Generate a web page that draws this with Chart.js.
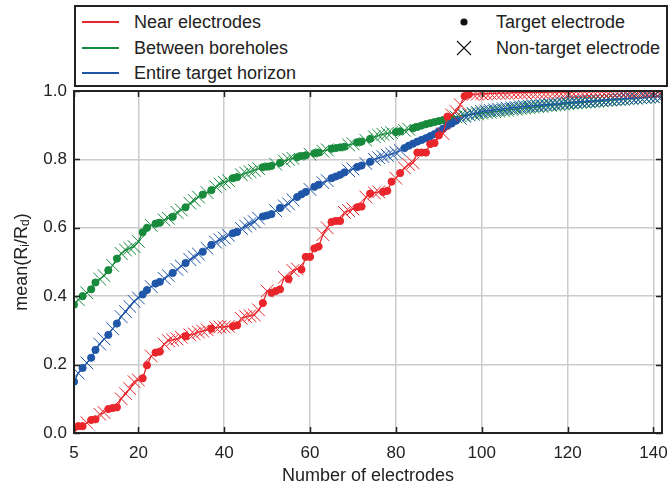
<!DOCTYPE html>
<html>
<head>
<meta charset="utf-8">
<script src="https://cdn.jsdelivr.net/npm/chart.js@4"></script>
<style>
  body { margin: 0; background: #fff; }
  #wrap { position: relative; width: 672px; height: 491px; }
  #legend {
    position: absolute; left: 74px; top: 5px; width: 590px; height: 78px;
    border: 2px solid #222; background: #fff;
    font-family: "Liberation Sans", Arial, sans-serif; font-size: 18px; color: #222;
  }
  .item { position: absolute; height: 20px; line-height: 20px; white-space: nowrap; }
  .item .ln { position: absolute; left: 0; top: 9px; width: 37px; height: 2px; }
  .item .txt { position: absolute; left: 52px; top: 0; }
  .mk { position: absolute; left: -8px; top: 0; width: 20px; height: 20px; }
</style>
</head>
<body>
<div id="wrap">
  <canvas id="chart" width="672" height="491"></canvas>
  <div id="legend"></div>
</div>
<script>
const electrodes = [
  5, 6, 7, 8, 9, 10, 11, 12, 13, 14,
  15, 16, 17, 18, 19, 20, 21, 22, 23, 24,
  25, 26, 27, 28, 29, 30, 31, 32, 33, 34,
  35, 36, 37, 38, 39, 40, 41, 42, 43, 44,
  45, 46, 47, 48, 49, 50, 51, 52, 53, 54,
  55, 56, 57, 58, 59, 60, 61, 62, 63, 64,
  65, 66, 67, 68, 69, 70, 71, 72, 73, 74,
  75, 76, 77, 78, 79, 80, 81, 82, 83, 84,
  85, 86, 87, 88, 89, 90, 91, 92, 93, 94,
  95, 96, 97, 98, 99, 100, 101, 102, 103, 104,
  105, 106, 107, 108, 109, 110, 111, 112, 113, 114,
  115, 116, 117, 118, 119, 120, 121, 122, 123, 124,
  125, 126, 127, 128, 129, 130, 131, 132, 133, 134,
  135, 136, 137, 138, 139, 140, 141, 142
];

// mean(Ri/Rd) per number of electrodes
const nearElectrodes = [
  0.015, 0.02, 0.02, 0.03, 0.038, 0.04, 0.055, 0.06, 0.07, 0.073,
  0.075, 0.10, 0.115, 0.13, 0.15, 0.155, 0.16, 0.198, 0.225, 0.235,
  0.238, 0.26, 0.27, 0.272, 0.275, 0.28, 0.283, 0.287, 0.29, 0.295,
  0.298, 0.302, 0.305, 0.308, 0.31, 0.31, 0.312, 0.312, 0.315, 0.335,
  0.34, 0.343, 0.345, 0.36, 0.38, 0.415, 0.41, 0.415, 0.42, 0.455,
  0.45, 0.475, 0.48, 0.478, 0.515, 0.515, 0.54, 0.545, 0.58, 0.60,
  0.617, 0.62, 0.62, 0.645, 0.65, 0.655, 0.66, 0.662, 0.69, 0.70,
  0.702, 0.705, 0.705, 0.708, 0.735, 0.745, 0.76, 0.775, 0.785, 0.79,
  0.82, 0.82, 0.82, 0.845, 0.848, 0.87, 0.875, 0.925, 0.93, 0.94,
  0.96, 0.985, 0.99, 0.99, 0.991, 0.992, 0.992, 0.993, 0.993, 0.994,
  0.994, 0.994, 0.995, 0.995, 0.995, 0.995, 0.996, 0.996, 0.996, 0.996,
  0.996, 0.997, 0.997, 0.997, 0.997, 0.997, 0.997, 0.998, 0.998, 0.998,
  0.998, 0.998, 0.998, 0.998, 0.998, 0.998, 0.999, 0.999, 0.999, 0.999,
  0.999, 0.999, 0.999, 0.999, 0.999, 0.999, 0.999, 0.999
];
const betweenBoreholes = [
  0.375, 0.39, 0.40, 0.41, 0.42, 0.44, 0.45, 0.46, 0.476, 0.49,
  0.51, 0.525, 0.535, 0.54, 0.545, 0.56, 0.587, 0.60, 0.607, 0.612,
  0.615, 0.623, 0.628, 0.632, 0.645, 0.652, 0.66, 0.672, 0.68, 0.69,
  0.697, 0.703, 0.71, 0.72, 0.728, 0.733, 0.738, 0.745, 0.748, 0.755,
  0.76, 0.764, 0.768, 0.773, 0.777, 0.779, 0.781, 0.786, 0.79, 0.795,
  0.80, 0.803, 0.806, 0.81, 0.812, 0.815, 0.818, 0.82, 0.824, 0.828,
  0.831, 0.833, 0.835, 0.837, 0.842, 0.846, 0.85, 0.852, 0.856, 0.86,
  0.866, 0.87, 0.873, 0.876, 0.878, 0.88, 0.882, 0.885, 0.888, 0.891,
  0.895, 0.899, 0.903, 0.906, 0.909, 0.912, 0.915, 0.918, 0.921, 0.924,
  0.927, 0.929, 0.931, 0.932, 0.933, 0.935, 0.937, 0.938, 0.94, 0.941,
  0.943, 0.944, 0.946, 0.947, 0.949, 0.95, 0.951, 0.953, 0.954, 0.955,
  0.957, 0.958, 0.959, 0.96, 0.962, 0.963, 0.964, 0.965, 0.966, 0.967,
  0.968, 0.969, 0.97, 0.971, 0.972, 0.973, 0.974, 0.975, 0.976, 0.977,
  0.978, 0.979, 0.98, 0.981, 0.982, 0.983, 0.984, 0.985
];
const entireHorizon = [
  0.15, 0.175, 0.19, 0.205, 0.22, 0.243, 0.26, 0.275, 0.287, 0.305,
  0.32, 0.34, 0.355, 0.37, 0.385, 0.395, 0.405, 0.418, 0.428, 0.437,
  0.442, 0.452, 0.46, 0.468, 0.478, 0.488, 0.497, 0.507, 0.515, 0.523,
  0.53, 0.54, 0.55, 0.558, 0.565, 0.57, 0.578, 0.584, 0.588, 0.598,
  0.605, 0.612, 0.618, 0.628, 0.633, 0.636, 0.64, 0.65, 0.658, 0.664,
  0.67, 0.682, 0.69, 0.698, 0.705, 0.712, 0.72, 0.726, 0.732, 0.738,
  0.745, 0.75, 0.755, 0.762, 0.767, 0.772, 0.778, 0.782, 0.788, 0.793,
  0.80, 0.805, 0.808, 0.812, 0.816, 0.82, 0.826, 0.833, 0.84, 0.846,
  0.852, 0.857, 0.862, 0.868, 0.874, 0.882, 0.89, 0.898, 0.905, 0.913,
  0.92, 0.926, 0.93, 0.934, 0.937, 0.94, 0.942, 0.943, 0.945, 0.946,
  0.948, 0.949, 0.951, 0.952, 0.954, 0.955, 0.956, 0.957, 0.958, 0.959,
  0.96, 0.961, 0.962, 0.963, 0.965, 0.966, 0.967, 0.968, 0.969, 0.969,
  0.97, 0.971, 0.972, 0.973, 0.974, 0.975, 0.976, 0.977, 0.977, 0.978,
  0.979, 0.98, 0.981, 0.982, 0.983, 0.983, 0.984, 0.985
];

// electrode counts whose added electrode is a target electrode (dot), the rest are crosses
const nearTargets = [5, 6, 7, 9, 10, 13, 14, 15, 21, 22, 24, 25, 31, 37, 42, 43, 49, 51, 52, 53, 55,
  58, 59, 60, 61, 62, 65, 66, 67, 71, 72, 74, 77, 78, 79, 81, 85, 86, 87, 88, 89, 90, 92, 96, 97];
const betweenTargets = [5, 7, 9, 10, 13, 15, 21, 22, 24, 25, 28, 31, 35, 37, 42, 43, 49, 50, 51, 53,
  57, 58, 59, 61, 62, 65, 66, 67, 68, 71, 72, 74, 80, 81, 84, 85, 86, 87, 88, 89, 90, 91, 92, 93];
const entireTargets = [5, 7, 9, 10, 13, 15, 21, 22, 24, 25, 28, 31, 35, 37, 42, 43, 49, 50, 51, 53,
  57, 58, 59, 61, 62, 65, 66, 67, 68, 71, 72, 74, 82, 83, 84, 85, 86, 87, 88, 89, 90, 91, 92, 93, 94];

const xTicks = [5, 20, 40, 60, 80, 100, 120, 140];
const yTicks = [0, 0.2, 0.4, 0.6, 0.8, 1.0];

const RED = "#e8262b", GREEN = "#178a3c", BLUE = "#1f56a8";
const FONT = "'Liberation Sans', Arial, sans-serif";

function series(label, values, targets, color, order) {
  const isTarget = (ctx) => ctx.raw && targets.includes(ctx.raw.x);
  return {
    label, order,
    data: electrodes.map((x, i) => ({ x, y: values[i] })),
    borderColor: color, backgroundColor: color,
    borderWidth: 1.3, tension: 0, clip: 0,
    pointStyle: (ctx) => (isTarget(ctx) ? "circle" : "crossRot"),
    pointRadius: (ctx) => (isTarget(ctx) ? 3.6 : 9),
    pointBorderWidth: 1,
    pointBackgroundColor: color, pointBorderColor: color,
  };
}

const frame = {
  id: "frame",
  afterDraw(chart) {
    const { ctx, chartArea: a, scales } = chart;
    ctx.save();
    ctx.strokeStyle = "#222";
    ctx.lineWidth = 1.5;
    for (const v of xTicks) {
      const px = Math.round(scales.x.getPixelForValue(v)) + 0.5;
      ctx.beginPath();
      ctx.moveTo(px, a.bottom); ctx.lineTo(px, a.bottom - 6);
      ctx.moveTo(px, a.top); ctx.lineTo(px, a.top + 6);
      ctx.stroke();
    }
    for (const v of yTicks) {
      const py = Math.round(scales.y.getPixelForValue(v)) + 0.5;
      ctx.beginPath();
      ctx.moveTo(a.left, py); ctx.lineTo(a.left + 6, py);
      ctx.moveTo(a.right, py); ctx.lineTo(a.right - 6, py);
      ctx.stroke();
    }
    ctx.lineWidth = 2;
    ctx.strokeRect(a.left, a.top, a.right - a.left, a.bottom - a.top);
    // y axis title with subscripts
    ctx.translate(22, (a.top + a.bottom) / 2);
    ctx.rotate(-Math.PI / 2);
    ctx.fillStyle = "#222";
    ctx.textBaseline = "middle";
    const big = "18px " + FONT, small = "12px " + FONT;
    const parts = [["mean(R", big, 0], ["i", small, 4], ["/R", big, 0], ["d", small, 4], [")", big, 0]];
    let w = 0;
    for (const [t, f] of parts) { ctx.font = f; w += ctx.measureText(t).width; }
    let cx = -w / 2;
    for (const [t, f, dy] of parts) {
      ctx.font = f;
      ctx.fillText(t, cx, dy);
      cx += ctx.measureText(t).width;
    }
    ctx.restore();
  },
};

new Chart(document.getElementById("chart"), {
  type: "line",
  data: {
    datasets: [
      series("Near electrodes", nearElectrodes, nearTargets, RED, 0),
      series("Between boreholes", betweenBoreholes, betweenTargets, GREEN, 2),
      series("Entire target horizon", entireHorizon, entireTargets, BLUE, 1),
    ],
  },
  options: {
    responsive: false,
    animation: false,
    layout: { padding: { top: 91, right: 5, left: 0, bottom: 0 } },
    plugins: { legend: { display: false }, tooltip: { enabled: false } },
    scales: {
      x: {
        type: "linear", min: 5, max: 142,
        afterBuildTicks: (s) => { s.ticks = xTicks.map((value) => ({ value })); },
        afterFit: (s) => { s.height = 58; s.paddingLeft = 0; s.paddingRight = 0; },
        grid: { color: "#cccccc", lineWidth: 1.5, drawTicks: false },
        border: { display: false },
        ticks: { padding: 10, color: "#222", font: { family: FONT, size: 17 } },
        title: { display: true, text: "Number of electrodes", color: "#222", font: { family: FONT, size: 18 } },
      },
      y: {
        min: 0, max: 1,
        afterBuildTicks: (s) => { s.ticks = yTicks.map((value) => ({ value })); },
        afterFit: (s) => { s.width = 74; },
        grid: { color: "#cccccc", lineWidth: 1.5, drawTicks: false },
        border: { display: false },
        ticks: { padding: 7, color: "#222", font: { family: FONT, size: 17 }, callback: (v) => v.toFixed(1) },
      },
    },
  },
  plugins: [frame],
});

// legend: series lines on the left, marker meaning on the right
const legend = document.getElementById("legend");
const lineItems = [["Near electrodes", RED], ["Between boreholes", GREEN], ["Entire target horizon", BLUE]];
lineItems.forEach(([label, color], i) => {
  const d = document.createElement("div");
  d.className = "item";
  d.style.left = "6px";
  d.style.top = (5 + i * 25.5) + "px";
  d.innerHTML = `<span class="ln" style="background:${color}"></span><span class="txt">${label}</span>`;
  legend.appendChild(d);
});
const markerItems = [
  ["Target electrode", '<svg class="mk" viewBox="0 0 20 20"><circle cx="10" cy="10" r="3.6" fill="#111"/></svg>'],
  ["Non-target electrode", '<svg class="mk" viewBox="0 0 20 20"><path d="M3 3L17 17M17 3L3 17" stroke="#111" stroke-width="1.1"/></svg>'],
];
markerItems.forEach(([label, svg], i) => {
  const d = document.createElement("div");
  d.className = "item";
  d.style.left = "386px";
  d.style.top = (5 + i * 25.5) + "px";
  d.innerHTML = svg + `<span class="txt" style="left:34px">${label}</span>`;
  legend.appendChild(d);
});
</script>
</body>
</html>
